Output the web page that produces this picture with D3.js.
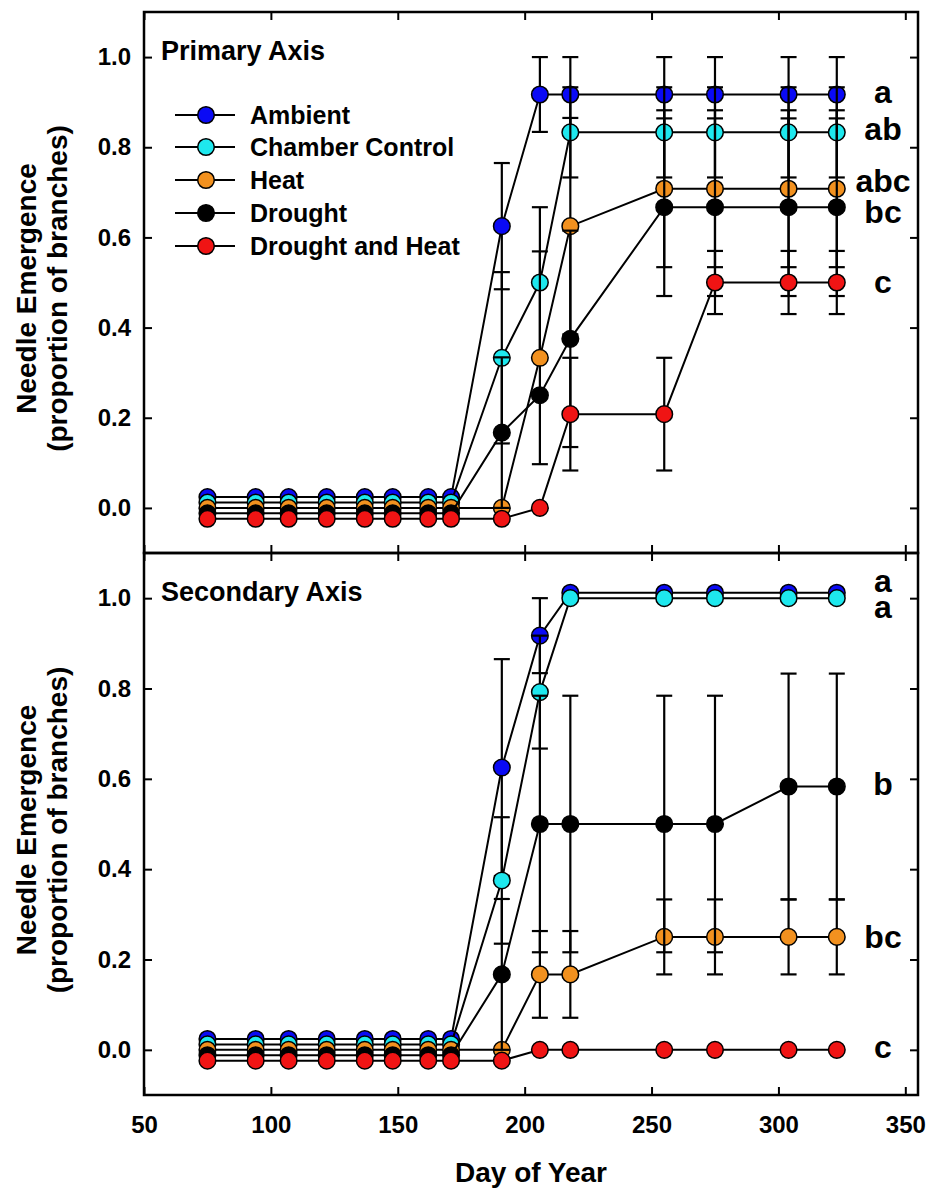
<!DOCTYPE html>
<html>
<head>
<meta charset="utf-8">
<script src="https://cdn.jsdelivr.net/npm/d3@7"></script>
<style>
  body { margin: 0; background: #fff; }
  text { font-family: "Liberation Sans", Arial, sans-serif; font-weight: bold; fill: #000; }
</style>
</head>
<body>
<script>
// day of year for every sample date
const days = [75, 94, 107, 122, 137, 148, 162, 171, 191, 206, 218, 255, 275, 304, 323]

const seriesNames = ["Ambient", "Chamber Control", "Heat", "Drought", "Drought and Heat"]

// Primary axis (proportion of branches, mean and SE)
const primAmbient   = [0.024, 0.024, 0.024, 0.024, 0.024, 0.024, 0.024, 0.024, 0.625, 0.917, 0.917, 0.917, 0.917, 0.917, 0.917]
const primAmbientSE = [0, 0, 0, 0, 0, 0, 0, 0, 0.14, 0.083, 0.083, 0.083, 0.083, 0.083, 0.083]
const primChamber   = [0.012, 0.012, 0.012, 0.012, 0.012, 0.012, 0.012, 0.012, 0.333, 0.5, 0.833, 0.833, 0.833, 0.833, 0.833]
const primChamberSE = [0, 0, 0, 0, 0, 0, 0, 0, 0.19, 0.167, 0.1, 0.1, 0.1, 0.1, 0.1]
const primHeat      = [0, 0, 0, 0, 0, 0, 0, 0, 0, 0.333, 0.625, 0.708, 0.708, 0.708, 0.708]
const primHeatSE    = [0, 0, 0, 0, 0, 0, 0, 0, 0, 0.236, 0.24, 0.174, 0.174, 0.174, 0.174]
const primDrought   = [-0.012, -0.012, -0.012, -0.012, -0.012, -0.012, -0.012, -0.012, 0.167, 0.25, 0.375, 0.667, 0.667, 0.667, 0.667]
const primDroughtSE = [0, 0, 0, 0, 0, 0, 0, 0, 0.167, 0, 0.24, 0.197, 0.197, 0.197, 0.197]
const primDH        = [-0.024, -0.024, -0.024, -0.024, -0.024, -0.024, -0.024, -0.024, -0.024, 0, 0.208, 0.208, 0.5, 0.5, 0.5]
const primDHSE      = [0, 0, 0, 0, 0, 0, 0, 0, 0, 0, 0.125, 0.125, 0.07, 0.07, 0.07]

// Secondary axis
const secAmbient   = [0.024, 0.024, 0.024, 0.024, 0.024, 0.024, 0.024, 0.024, 0.625, 0.917, 1.012, 1.012, 1.012, 1.012, 1.012]
const secAmbientSE = [0, 0, 0, 0, 0, 0, 0, 0, 0.24, 0.083, 0, 0, 0, 0, 0]
const secChamber   = [0.012, 0.012, 0.012, 0.012, 0.012, 0.012, 0.012, 0.012, 0.375, 0.792, 1.0, 1.0, 1.0, 1.0, 1.0]
const secChamberSE = [0, 0, 0, 0, 0, 0, 0, 0, 0.14, 0.125, 0, 0, 0, 0, 0]
const secHeat      = [0, 0, 0, 0, 0, 0, 0, 0, 0, 0.167, 0.167, 0.25, 0.25, 0.25, 0.25]
const secHeatSE    = [0, 0, 0, 0, 0, 0, 0, 0, 0, 0.096, 0.096, 0.083, 0.083, 0.083, 0.083]
const secDrought   = [-0.012, -0.012, -0.012, -0.012, -0.012, -0.012, -0.012, -0.012, 0.167, 0.5, 0.5, 0.5, 0.5, 0.583, 0.583]
const secDroughtSE = [0, 0, 0, 0, 0, 0, 0, 0, 0.167, 0.284, 0.284, 0.284, 0.284, 0.25, 0.25]
const secDH        = [-0.024, -0.024, -0.024, -0.024, -0.024, -0.024, -0.024, -0.024, -0.024, 0, 0, 0, 0, 0, 0]
const secDHSE      = [0, 0, 0, 0, 0, 0, 0, 0, 0, 0, 0, 0, 0, 0, 0]

// significance letters and the value they sit next to
const primLetters = ["a", "ab", "abc", "bc", "c"]
const primLetterAt = [0.899, 0.816, 0.701, 0.633, 0.476]
const secLetters = ["a", "a", "b", "bc", "c"]
const secLetterAt = [1.013, 0.957, 0.565, 0.225, -0.018]

const xTicks = [50, 100, 150, 200, 250, 300, 350]
const yTicks = [0, 0.2, 0.4, 0.6, 0.8, 1.0]
const panelTitles = ["Primary Axis", "Secondary Axis"]

const colors = ["#0a0af5", "#1ee8ee", "#f2911f", "#000000", "#f01414"]

const width = 930, height = 1193
const left = 144, right = 918

const svg = d3.select("body").append("svg")
    .attr("width", width)
    .attr("height", height)

const x = d3.scaleLinear().domain([50, 355]).range([left, right])

const panels = [
  {top: 12, bottom: 553, title: panelTitles[0], letters: primLetters, letterAt: primLetterAt,
   means: [primAmbient, primChamber, primHeat, primDrought, primDH],
   errs: [primAmbientSE, primChamberSE, primHeatSE, primDroughtSE, primDHSE]},
  {top: 553, bottom: 1095, title: panelTitles[1], letters: secLetters, letterAt: secLetterAt,
   means: [secAmbient, secChamber, secHeat, secDrought, secDH],
   errs: [secAmbientSE, secChamberSE, secHeatSE, secDroughtSE, secDHSE]}
]

panels.forEach(function(p, pi){
  const y = d3.scaleLinear().domain([-0.1, 1.1]).range([p.bottom, p.top])
  const g = svg.append("g")

  // ticks inside the frame
  const axes = [
    {ax: d3.axisLeft(y).tickValues(yTicks).tickSize(-8).tickPadding(13).tickFormat(d3.format(".1f")), tr: "translate(" + left + ",0)", lab: true},
    {ax: d3.axisRight(y).tickValues(yTicks).tickSize(-8).tickFormat(""), tr: "translate(" + right + ",0)"},
    {ax: d3.axisTop(x).tickValues(xTicks).tickSize(-8).tickFormat(""), tr: "translate(0," + p.top + ")"},
    {ax: d3.axisBottom(x).tickValues(xTicks).tickSize(-8).tickPadding(21)
        .tickFormat(pi == 1 ? d3.format("d") : ""), tr: "translate(0," + p.bottom + ")", lab: pi == 1}
  ]
  axes.forEach(function(a){
    const ag = g.append("g").attr("transform", a.tr).call(a.ax)
    ag.select(".domain").remove()
    ag.selectAll(".tick line").attr("stroke", "#000").attr("stroke-width", 2)
    ag.selectAll(".tick text")
      .attr("font-family", "Liberation Sans, Arial, sans-serif")
      .attr("font-weight", "bold")
      .attr("font-size", 24)
      .attr("fill", "#000")
  })

  // frame
  g.append("rect")
    .attr("x", left).attr("y", p.top)
    .attr("width", right - left).attr("height", p.bottom - p.top)
    .attr("fill", "none").attr("stroke", "#000").attr("stroke-width", 2.5)

  // series: error bars, line, markers
  p.means.forEach(function(vals, si){
    const pts = days.map(function(d, i){ return {d: d, v: vals[i], e: p.errs[si][i]} })
    const sg = g.append("g")

    const eb = pts.filter(function(q){ return q.e > 0 })
    sg.selectAll("line.bar").data(eb).enter().append("line")
      .attr("x1", function(q){ return x(q.d) }).attr("x2", function(q){ return x(q.d) })
      .attr("y1", function(q){ return y(q.v + q.e) }).attr("y2", function(q){ return y(q.v - q.e) })
      .attr("stroke", "#000").attr("stroke-width", 2.2)
    ;[1, -1].forEach(function(sgn){
      sg.selectAll("line.cap" + sgn).data(eb).enter().append("line")
        .attr("x1", function(q){ return x(q.d) - 8 }).attr("x2", function(q){ return x(q.d) + 8 })
        .attr("y1", function(q){ return y(q.v + sgn * q.e) }).attr("y2", function(q){ return y(q.v + sgn * q.e) })
        .attr("stroke", "#000").attr("stroke-width", 2.2)
    })

    sg.append("path")
      .datum(pts)
      .attr("d", d3.line().x(function(q){ return x(q.d) }).y(function(q){ return y(q.v) }))
      .attr("fill", "none").attr("stroke", "#000").attr("stroke-width", 2)

    sg.selectAll("circle").data(pts).enter().append("circle")
      .attr("cx", function(q){ return x(q.d) })
      .attr("cy", function(q){ return y(q.v) })
      .attr("r", 8.3)
      .attr("fill", colors[si])
      .attr("stroke", "#000").attr("stroke-width", 1.5)
  })

  // panel title
  g.append("text")
    .attr("x", 161).attr("y", p.top + 48)
    .attr("font-size", 27)
    .text(p.title)

  // letters
  g.selectAll("text.sig").data(p.letters).enter().append("text")
    .attr("class", "sig")
    .attr("x", 883)
    .attr("y", function(d, i){ return y(p.letterAt[i]) })
    .attr("text-anchor", "middle")
    .attr("font-size", 32)
    .text(function(d){ return d })

  // y title
  const cy = (p.top + p.bottom) / 2 + 6
  g.append("text")
    .attr("transform", "translate(36," + cy + ") rotate(-90)")
    .attr("text-anchor", "middle")
    .attr("font-size", 28)
    .text("Needle Emergence")
  g.append("text")
    .attr("transform", "translate(67," + cy + ") rotate(-90)")
    .attr("text-anchor", "middle")
    .attr("font-size", 28)
    .text("(proportion of branches)")
})

// legend in the top panel
const legend = svg.append("g")
const legRows = [115, 147, 180, 213, 246]
seriesNames.forEach(function(name, i){
  legend.append("line")
    .attr("x1", 175).attr("x2", 235)
    .attr("y1", legRows[i]).attr("y2", legRows[i])
    .attr("stroke", "#000").attr("stroke-width", 2)
  legend.append("circle")
    .attr("cx", 206).attr("cy", legRows[i]).attr("r", 8.3)
    .attr("fill", colors[i]).attr("stroke", "#000").attr("stroke-width", 1.5)
  legend.append("text")
    .attr("x", 250).attr("y", legRows[i])
    .attr("dy", "0.35em")
    .attr("font-size", 25)
    .text(name)
})

// x title
svg.append("text")
  .attr("x", (left + right) / 2).attr("y", 1182)
  .attr("text-anchor", "middle")
  .attr("font-size", 28)
  .text("Day of Year")
</script>
</body>
</html>
